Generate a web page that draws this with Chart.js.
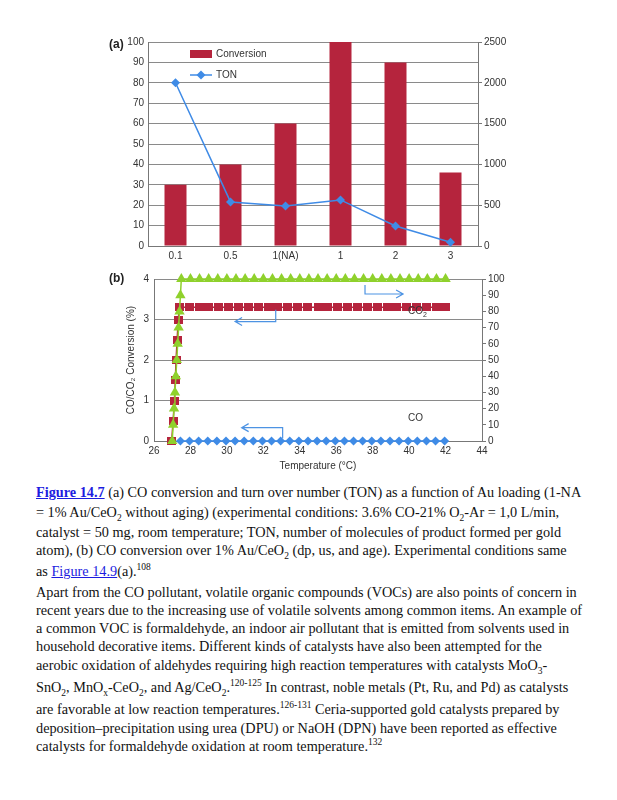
<!DOCTYPE html>
<html>
<head>
<meta charset="utf-8">
<script src="https://cdn.jsdelivr.net/npm/chart.js@4.4.1/dist/chart.umd.min.js"></script>
<style>
    body { margin: 0; background: #fff; width: 617px; height: 800px; position: relative; overflow: hidden; }
    .wrap { position: absolute; left: 0; width: 617px; }
    #wrapA { top: 0; height: 265px; }
    #wrapB { top: 265px; height: 212px; }
    .panel { position: absolute; font: bold 12px 'Liberation Sans', Arial, sans-serif; color: #222; }
    .line { position: absolute; left: 36px; height: 18px; line-height: 18px; white-space: nowrap;
            font-family: 'Liberation Serif', 'Times New Roman', serif; font-size: 14.25px; color: #111; }
    .line sub, .line sup { font-size: 9.5px; line-height: 0; }
    .line a { color: #1c1ce0; text-decoration: underline; }
</style>
</head>
<body>
<div class="wrap" id="wrapA"><canvas id="chartA"></canvas></div>
<div class="wrap" id="wrapB"><canvas id="chartB"></canvas></div>
<div class="panel" style="left:109px; top:37px;">(a)</div>
<div class="panel" style="left:109px; top:271px;">(b)</div>

<div class="line" style="top:483px;"><a style="font-weight:bold;">Figure 14.7</a> (a) CO conversion and turn over number (TON) as a function of Au loading (1-NA</div>
<div class="line" style="top:503px;">= 1% Au/CeO<sub>2</sub> without aging) (experimental conditions: 3.6% CO-21% O<sub>2</sub>-Ar = 1,0 L/min,</div>
<div class="line" style="top:523px;">catalyst = 50 mg, room temperature; TON, number of molecules of product formed per gold</div>
<div class="line" style="top:541px;">atom), (b) CO conversion over 1% Au/CeO<sub>2</sub> (dp, us, and age). Experimental conditions same</div>
<div class="line" style="top:562px;">as <a>Figure 14.9</a>(a).<sup>108</sup></div>

<div class="line" style="top:583px;">Apart from the CO pollutant, volatile organic compounds (VOCs) are also points of concern in</div>
<div class="line" style="top:601px;">recent years due to the increasing use of volatile solvents among common items. An example of</div>
<div class="line" style="top:619px;">a common VOC is formaldehyde, an indoor air pollutant that is emitted from solvents used in</div>
<div class="line" style="top:637px;">household decorative items. Different kinds of catalysts have also been attempted for the</div>
<div class="line" style="top:656px;">aerobic oxidation of aldehydes requiring high reaction temperatures with catalysts MoO<sub>3</sub>-</div>
<div class="line" style="top:678px;">SnO<sub>2</sub>, MnO<sub>x</sub>-CeO<sub>2</sub>, and Ag/CeO<sub>2</sub>.<sup>120-125</sup> In contrast, noble metals (Pt, Ru, and Pd) as catalysts</div>
<div class="line" style="top:700px;">are favorable at low reaction temperatures.<sup>126-131</sup> Ceria-supported gold catalysts prepared by</div>
<div class="line" style="top:719px;">deposition&ndash;precipitation using urea (DPU) or NaOH (DPN) have been reported as effective</div>
<div class="line" style="top:737px;">catalysts for formaldehyde oxidation at room temperature.<sup>132</sup></div>

<script>
// (a) conversion and TON vs Au loading
const loadings = ['0.1', '0.5', '1(NA)', '1', '2', '3'];
const conversion = [30, 40, 60, 100, 90, 36];
const ton = [2000, 540, 490, 565, 245, 45];

// (b) conversion vs temperature
const co2Temp = [26.97, 27.05, 27.12, 27.17, 27.21, 27.27, 27.33, 27.4, 27.95, 28.5, 29.0, 29.55, 30.1, 30.65, 31.2,
    31.75, 32.3, 32.8, 33.35, 33.9, 34.45, 35.0, 35.5, 36.05, 36.6, 37.15, 37.7, 38.25, 38.8, 39.3, 39.85, 40.4, 40.95, 41.5, 42.0];
const co2Value = [0, 0.5, 1, 1.5, 2, 2.5, 3, 3.3, 3.3, 3.3, 3.3, 3.3, 3.3, 3.3, 3.3,
    3.3, 3.3, 3.3, 3.3, 3.3, 3.3, 3.3, 3.3, 3.3, 3.3, 3.3, 3.3, 3.3, 3.3, 3.3, 3.3, 3.3, 3.3, 3.3, 3.3];
const coTemp = [27.45, 27.95, 28.45, 28.95, 29.45, 29.95, 30.45, 30.95, 31.45, 31.95, 32.45, 32.95, 33.45, 33.95, 34.45,
    34.95, 35.45, 35.95, 36.45, 36.95, 37.45, 37.95, 38.45, 38.95, 39.45, 39.95, 40.45, 40.95, 41.45, 41.95];
const coValue = [0, 0, 0, 0, 0, 0, 0, 0, 0, 0, 0, 0, 0, 0, 0, 0, 0, 0, 0, 0, 0, 0, 0, 0, 0, 0, 0, 0, 0, 0];
const convTemp = [27.0, 27.05, 27.1, 27.15, 27.2, 27.25, 27.3, 27.35, 27.4, 27.45, 27.5, 28.0, 28.5, 29.0, 29.5, 30.0,
    30.5, 31.0, 31.5, 32.0, 32.5, 33.0, 33.5, 34.0, 34.5, 35.0, 35.5, 36.0, 36.5, 37.0, 37.5, 38.0, 38.5, 39.0, 39.5,
    40.0, 40.5, 41.0, 41.5, 42.0];
const convValue = [0, 10, 20, 30, 40, 50, 60, 70, 80, 90, 100, 100, 100, 100, 100, 100,
    100, 100, 100, 100, 100, 100, 100, 100, 100, 100, 100, 100, 100, 100, 100, 100, 100, 100, 100,
    100, 100, 100, 100, 100];

const RED = '#b5243d', BLUE = '#3f8be6', GREEN = '#8fd12c', GRID = '#8a8a8a', AXIS = '#777', TXT = '#333';
const tickFont = { family: "'Liberation Sans', Arial, sans-serif", size: 10 };
const plain = (v) => String(v);

const pairs = (xs, ys) => xs.map((x, i) => ({ x, y: ys[i] }));

function rectPoint(w, h, color) {
    const c = document.createElement('canvas');
    c.width = w; c.height = h;
    const g = c.getContext('2d');
    g.fillStyle = color;
    g.fillRect(0, 0, w, h);
    return c;
}

// legend drawn inside plot area of (a)
const legendA = {
    id: 'legendA',
    afterDraw(chart) {
        const { ctx, chartArea: a } = chart;
        ctx.save();
        ctx.fillStyle = RED;
        ctx.fillRect(a.left + 42, a.top + 8, 22, 8);
        ctx.strokeStyle = BLUE; ctx.lineWidth = 1.5;
        ctx.beginPath(); ctx.moveTo(a.left + 42, a.top + 33); ctx.lineTo(a.left + 64, a.top + 33); ctx.stroke();
        ctx.fillStyle = BLUE;
        ctx.beginPath();
        const dx = a.left + 53, dy = a.top + 33;
        ctx.moveTo(dx, dy - 4.5); ctx.lineTo(dx + 4.5, dy); ctx.lineTo(dx, dy + 4.5); ctx.lineTo(dx - 4.5, dy); ctx.closePath(); ctx.fill();
        ctx.fillStyle = TXT;
        ctx.font = "10px 'Liberation Sans', Arial, sans-serif";
        ctx.textBaseline = 'middle';
        ctx.fillText('Conversion', a.left + 68, a.top + 12);
        ctx.fillText('TON', a.left + 68, a.top + 33);
        ctx.restore();
    }
};

new Chart(document.getElementById('chartA'), {
    type: 'bar',
    data: {
        labels: loadings,
        datasets: [
            { type: 'line', label: 'TON', data: ton, yAxisID: 'y1', order: 0, borderColor: BLUE, backgroundColor: BLUE,
              borderWidth: 1.5, pointStyle: 'rectRot', pointRadius: 4.5, pointBorderWidth: 0, tension: 0, clip: false },
            { label: 'Conversion', data: conversion, yAxisID: 'y', order: 1, backgroundColor: RED,
              categoryPercentage: 1, barPercentage: 0.4 }
        ]
    },
    options: {
        responsive: true, maintainAspectRatio: false, animation: false,
        layout: { padding: { top: 42, left: 0, right: 0, bottom: 0 } },
        plugins: { legend: { display: false }, tooltip: { enabled: false } },
        scales: {
            x: {
                grid: { display: false, drawTicks: false },
                border: { color: AXIS },
                ticks: { font: tickFont, color: TXT, padding: 4 },
                afterFit: (s) => { s.height = 19; }
            },
            y: {
                position: 'left', min: 0, max: 100,
                ticks: { stepSize: 10, font: tickFont, color: TXT, padding: 4, callback: plain },
                grid: { color: GRID, drawTicks: false },
                border: { color: AXIS },
                afterFit: (s) => { s.width = 148; }
            },
            y1: {
                position: 'right', min: 0, max: 2500,
                ticks: { stepSize: 500, font: tickFont, color: TXT, padding: 2, callback: plain },
                grid: { drawOnChartArea: false, drawTicks: true, tickLength: 4, color: AXIS },
                border: { color: AXIS },
                afterFit: (s) => { s.width = 139; }
            }
        }
    },
    plugins: [legendA]
});

// arrows and labels of (b), in data units of the left axis
const notesB = {
    id: 'notesB',
    afterDatasetsDraw(chart) {
        const { ctx, scales: { x, y } } = chart;
        const arrows = [
            { x0: 37.58, y0: 3.85, y1: 3.63, x2: 39.67 },
            { x0: 32.68, y0: 3.24, y1: 2.95, x2: 30.45 },
            { x0: 33.06, y0: 0.06, y1: 0.33, x2: 30.81 }
        ];
        ctx.save();
        ctx.strokeStyle = '#4d93e3'; ctx.lineWidth = 1.2;
        arrows.forEach((a) => {
            const px0 = x.getPixelForValue(a.x0), py0 = y.getPixelForValue(a.y0);
            const py1 = y.getPixelForValue(a.y1), px2 = x.getPixelForValue(a.x2);
            const dir = px2 > px0 ? 1 : -1;
            ctx.beginPath();
            ctx.moveTo(px0, py0); ctx.lineTo(px0, py1); ctx.lineTo(px2, py1);
            ctx.moveTo(px2 - dir * 7, py1 - 4); ctx.lineTo(px2, py1); ctx.lineTo(px2 - dir * 7, py1 + 4);
            ctx.stroke();
        });
        ctx.fillStyle = TXT;
        ctx.font = "10px 'Liberation Sans', Arial, sans-serif";
        ctx.textBaseline = 'middle';
        const cx = x.getPixelForValue(39.94);
        ctx.fillText('CO', cx, y.getPixelForValue(3.2));
        const w = ctx.measureText('CO').width;
        ctx.font = "7px 'Liberation Sans', Arial, sans-serif";
        ctx.fillText('2', cx + w, y.getPixelForValue(3.2) + 4);
        ctx.font = "10px 'Liberation Sans', Arial, sans-serif";
        ctx.fillText('CO', cx, y.getPixelForValue(0.57));
        ctx.restore();
    }
};

new Chart(document.getElementById('chartB'), {
    type: 'scatter',
    data: {
        datasets: [
            { label: 'Conversion', data: pairs(convTemp, convValue), yAxisID: 'y1', showLine: true, clip: false,
              borderColor: GREEN, backgroundColor: GREEN, borderWidth: 1.5, pointStyle: 'triangle', pointRadius: 6, pointBorderWidth: 0 },
            { label: 'CO', data: pairs(coTemp, coValue), yAxisID: 'y', showLine: true, clip: false,
              borderColor: BLUE, backgroundColor: BLUE, borderWidth: 1.5, pointStyle: 'rectRot', pointRadius: 4.5, pointBorderWidth: 0 },
            { label: 'CO2', data: pairs(co2Temp, co2Value), yAxisID: 'y', showLine: true, clip: false,
              borderColor: RED, backgroundColor: RED, borderWidth: 1.5, pointStyle: rectPoint(9, 8, RED), pointRadius: 5 }
        ]
    },
    options: {
        responsive: true, maintainAspectRatio: false, animation: false,
        layout: { padding: { top: 14, left: 121, right: 0, bottom: 1 } },
        plugins: { legend: { display: false }, tooltip: { enabled: false } },
        scales: {
            x: {
                type: 'linear', min: 26, max: 44,
                ticks: { stepSize: 2, font: tickFont, color: TXT, padding: 4 },
                grid: { display: false, drawTicks: false },
                border: { color: AXIS },
                title: { display: true, text: 'Temperature (\u00B0C)', font: tickFont, color: TXT },
                afterFit: (s) => { s.height = 35; }
            },
            y: {
                position: 'left', min: 0, max: 4,
                ticks: { stepSize: 1, font: tickFont, color: TXT, padding: 5 },
                grid: { color: GRID, drawTicks: false },
                border: { color: AXIS },
                title: { display: true, text: 'CO/CO\u2082 Conversion (%)', font: tickFont, color: TXT },
                afterFit: (s) => { s.width = 33; }
            },
            y1: {
                position: 'right', min: 0, max: 100,
                ticks: { stepSize: 10, font: tickFont, color: TXT, padding: 2, callback: plain },
                grid: { drawOnChartArea: false, drawTicks: true, tickLength: 4, color: AXIS },
                border: { color: AXIS },
                afterFit: (s) => { s.width = 135; }
            }
        }
    },
    plugins: [notesB]
});
</script>
</body>
</html>
